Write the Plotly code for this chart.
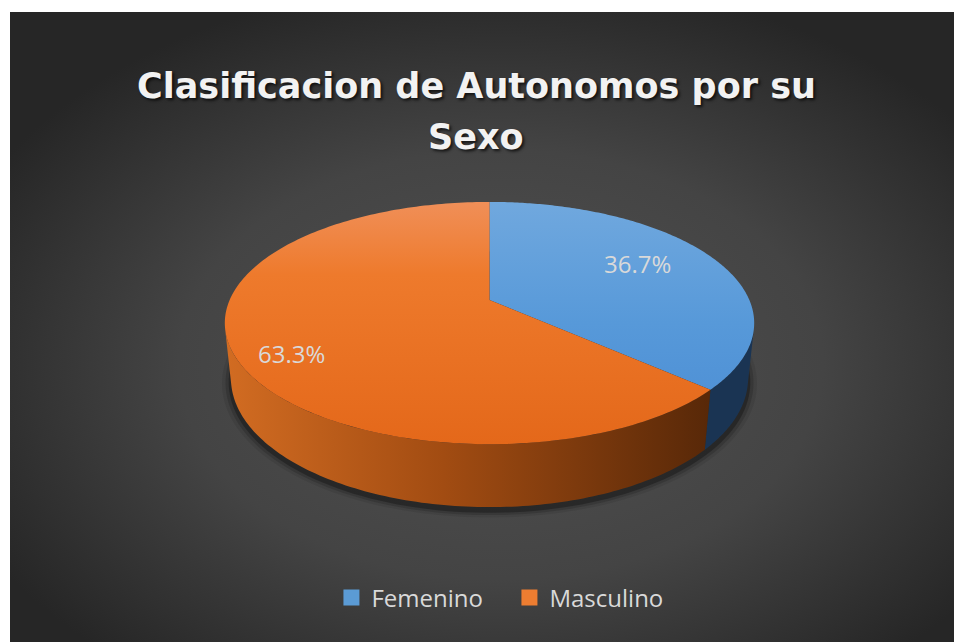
import base64
import numpy as np
import plotly.graph_objects as go

# ---------------- data ----------------
categories = ["Femenino", "Masculino"]
values = [36.7, 63.3]
title_line1 = "Clasificacion de Autonomos por su"
title_line2 = "Sexo"

# ---------------- style ----------------
legend_colors = ["#5b9bd5", "#ed7d31"]
top_scales = [
    [[0, "#70a8de"], [0.5, "#5799d9"], [1, "#4a8cd4"]],
    [[0, "#f08f58"], [0.3, "#ee7a2c"], [1, "#e4681a"]],
]
side_scales = [
    [[0, "#24466c"], [1, "#1a3453"]],
    [[0, "#d26c22"], [0.45, "#a24c12"], [1, "#582808"]],
]
label_radius = [0.70, 0.81]
label_turn = np.radians(-6)

W, H = 954, 642
CX, CY = 489.5, 300.0          # screen position of pie centre
F = 1220.0                      # focal scale
ALPHA = np.radians(26.7)        # elevation angle
DIST = 4.695                    # camera distance (radius units)
THICK = 0.24                    # pie thickness (radius units)
SA, CA = np.sin(ALPHA), np.cos(ALPHA)


def proj(theta, r=1.0, y3=0.0):
    X = r * np.sin(theta)
    Z = r * np.cos(theta)
    ycam = y3 * CA + Z * SA
    zcam = -y3 * SA + Z * CA + DIST
    return CX + F * X / zcam, CY - F * ycam / zcam


total = sum(values)
bounds = np.concatenate([[0], np.cumsum(values)]) / total * 2 * np.pi
sil = np.arccos(-1.0 / (DIST * CA))          # silhouette angle of the side
side_lo, side_hi = sil, 2 * np.pi - sil

fig = go.Figure()

# drop shadow
for rr, a in [(1.035, 0.08), (1.022, 0.15), (1.01, 0.28)]:
    t = np.linspace(0, 2 * np.pi, 200)
    xs, ys = proj(t, rr, -THICK - 0.015)
    fig.add_trace(go.Scatter(x=xs, y=ys, fill="toself", mode="none",
                             fillcolor=f"rgba(0,0,0,{a})", showlegend=False,
                             hoverinfo="skip"))

# sides
for i in range(len(values)):
    a, b = max(bounds[i], side_lo), min(bounds[i + 1], side_hi)
    if b <= a:
        continue
    t = np.linspace(a, b, 120)
    xt, yt = proj(t)
    xb, yb = proj(t[::-1], 1.0, -THICK)
    fig.add_trace(go.Scatter(
        x=np.concatenate([xt, xb]), y=np.concatenate([yt, yb]),
        fill="toself", mode="none", showlegend=False, hoverinfo="skip",
        fillgradient=dict(type="horizontal", colorscale=side_scales[i],
                          start=CX - 265, stop=CX + 220)))

# top faces
y_top = proj(0.0)[1]
y_bot = proj(np.pi)[1]
for i in range(len(values)):
    t = np.linspace(bounds[i], bounds[i + 1], 200)
    xs, ys = proj(t)
    fig.add_trace(go.Scatter(
        x=np.concatenate([[CX], xs, [CX]]), y=np.concatenate([[CY], ys, [CY]]),
        fill="toself", mode="none", showlegend=False,
        name=categories[i], hoverinfo="name",
        fillgradient=dict(type="vertical", colorscale=top_scales[i],
                          start=y_top, stop=y_bot)))

# percentage labels
for i in range(len(values)):
    mid = (bounds[i] + bounds[i + 1]) / 2 + label_turn
    lx, ly = proj(mid, label_radius[i])
    fig.add_annotation(x=lx, y=ly + 2, xref="x", yref="y", showarrow=False,
                       text=f"{values[i] / total * 100:.1f}%",
                       font=dict(family="Open Sans", size=24, color="#d9d9d9"))

# legend entries
for i in range(len(values)):
    fig.add_trace(go.Scatter(x=[None], y=[None], mode="markers", name=categories[i],
                             marker=dict(symbol="square", size=16, color=legend_colors[i])))

# title
tfont = dict(family="DejaVu Sans", size=35, color="#f2f2f2", weight="bold",
             shadow="2px 2px 3px rgba(0,0,0,0.7)")
fig.add_annotation(x=476, y=86, xref="x", yref="y", showarrow=False,
                   text=title_line1, font=tfont)
fig.add_annotation(x=476, y=137, xref="x", yref="y", showarrow=False,
                   text=title_line2, font=tfont)

# background radial gradient
svg = ('<svg xmlns="http://www.w3.org/2000/svg" width="944" height="630">'
       '<defs><radialGradient id="g" cx="0.52" cy="0.56" r="0.62">'
       '<stop offset="0" stop-color="#515151"/><stop offset="0.55" stop-color="#444444"/>'
       '<stop offset="1" stop-color="#262626"/></radialGradient></defs>'
       '<rect width="944" height="630" fill="url(#g)"/></svg>')
src = "data:image/svg+xml;base64," + base64.b64encode(svg.encode()).decode()

fig.update_layout(
    width=W, height=H, margin=dict(l=0, r=0, t=0, b=0),
    paper_bgcolor="white", plot_bgcolor="rgba(0,0,0,0)",
    xaxis=dict(range=[0, W], visible=False, fixedrange=True),
    yaxis=dict(range=[H, 0], visible=False, fixedrange=True),
    images=[dict(source=src, xref="paper", yref="paper", x=10 / W, y=1 - 12 / H,
                 sizex=944 / W, sizey=630 / H, xanchor="left", yanchor="top",
                 sizing="stretch", layer="below")],
    legend=dict(orientation="h", x=0.534, xanchor="center", y=1 - 598 / H,
                yanchor="middle", font=dict(family="Open Sans", size=24, color="#d9d9d9"),
                bgcolor="rgba(0,0,0,0)", itemclick=False, itemdoubleclick=False,
                entrywidth=133, entrywidthmode="pixels"),
    showlegend=True,
)

fig.write_html("out.html", config={"displayModeBar": False},
               post_script="document.body.style.margin='0';document.body.style.overflow='hidden';")
